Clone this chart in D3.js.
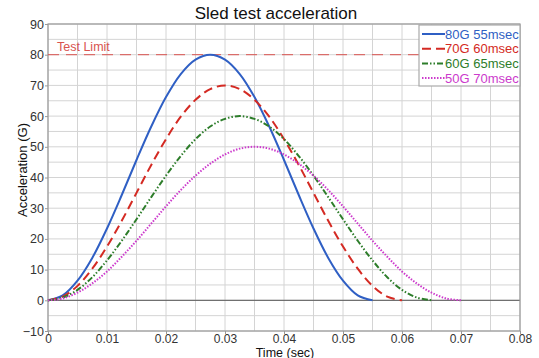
<!DOCTYPE html>
<meta charset="utf-8">
<script src="https://d3js.org/d3.v7.min.js"></script>
<style>
  body { margin: 0; background: #fff; }
  text { font-family: "Liberation Sans", Arial, sans-serif; }
</style>
<body>
<div id="chart"></div>
<script>
// time samples (sec), shared by all series
var times = [0, 0.0025, 0.005, 0.0075, 0.01, 0.0125, 0.015, 0.0175, 0.02, 0.0225,
  0.025, 0.0275, 0.03, 0.0325, 0.035, 0.0375, 0.04, 0.0425, 0.045, 0.0475,
  0.05, 0.0525, 0.055, 0.0575, 0.06, 0.0625, 0.065, 0.0675, 0.07];

var g80 = [0, 1.6, 6.4, 13.8, 23.4, 34.3, 45.7, 56.6, 66.2, 73.7, 78.4, 80,
  78.4, 73.7, 66.2, 56.6, 45.7, 34.3, 23.4, 13.8, 6.4, 1.6, 0];
var g70 = [0, 1.2, 4.7, 10.3, 17.5, 25.9, 35, 44.1, 52.5, 59.8, 65.3, 68.8, 70,
  68.8, 65.3, 59.8, 52.5, 44.1, 35, 25.9, 17.5, 10.3, 4.7, 1.2, 0];
var g60 = [0, 0.9, 3.4, 7.5, 13, 19.4, 26.4, 33.6, 40.6, 47, 52.5, 56.6, 59.1, 60,
  59.1, 56.6, 52.5, 47, 40.6, 33.6, 26.4, 19.4, 13, 7.5, 3.4, 0.9, 0];
var g50 = [0, 0.6, 2.5, 5.5, 9.4, 14.2, 19.4, 25, 30.6, 35.9, 40.6, 44.5, 47.5, 49.4, 50,
  49.4, 47.5, 44.5, 40.6, 35.9, 30.6, 25, 19.4, 14.2, 9.4, 5.5, 2.5, 0.6, 0];

var seriesNames = ["80G 55msec", "70G 60msec", "60G 65msec", "50G 70msec"];
var testLimit = 80;
var xTicks = [0, 0.01, 0.02, 0.03, 0.04, 0.05, 0.06, 0.07, 0.08];
var yTicks = [-10, 0, 10, 20, 30, 40, 50, 60, 70, 80, 90];

var styles = [
  {color: "#2f5fc4", dash: null, w: 2},
  {color: "#d42a23", dash: "9,5", w: 2},
  {color: "#2d7d2a", dash: "6,2,1.5,2,1.5,2", w: 2},
  {color: "#cc3acc", dash: "1.5,1.5", w: 2}
];
var data = [g80, g70, g60, g50];

var W = 539, H = 358;
var margin = {top: 24, right: 19, bottom: 27, left: 48};
var width = W - margin.left - margin.right,
    height = H - margin.top - margin.bottom;

var svg = d3.select("#chart").append("svg")
    .attr("width", W).attr("height", H);
var g = svg.append("g")
    .attr("transform", "translate(" + margin.left + "," + margin.top + ")");

var x = d3.scaleLinear().domain([0, 0.08]).range([0, width]);
var y = d3.scaleLinear().domain([-10, 90]).range([height, 0]);

// grid every 0.005 / 5
var xGrid = d3.range(0, 17).map(function(i) { return i * 0.005; });
var yGrid = d3.range(0, 21).map(function(i) { return -10 + i * 5; });

g.selectAll(".gx").data(xGrid).enter().append("line")
    .attr("x1", function(d) { return x(d); }).attr("x2", function(d) { return x(d); })
    .attr("y1", 0).attr("y2", height)
    .attr("stroke", "#d4d4d4").attr("stroke-width", 1);
g.selectAll(".gy").data(yGrid).enter().append("line")
    .attr("x1", 0).attr("x2", width)
    .attr("y1", function(d) { return y(d); }).attr("y2", function(d) { return y(d); })
    .attr("stroke", "#d4d4d4").attr("stroke-width", 1);

// zero line
g.append("line")
    .attr("x1", 0).attr("x2", width)
    .attr("y1", y(0)).attr("y2", y(0))
    .attr("stroke", "#555").attr("stroke-width", 1);

// axes
var xAxis = g.append("g")
    .attr("transform", "translate(0," + height + ")")
    .call(d3.axisBottom(x).tickValues(xTicks).tickSize(3).tickPadding(0)
      .tickFormat(function(d) { return d === 0 ? "0" : d3.format(".2f")(d); }));
var yAxis = g.append("g")
    .call(d3.axisLeft(y).tickValues(yTicks).tickSize(3).tickPadding(1));
[xAxis, yAxis].forEach(function(a) {
  a.select(".domain").remove();
  a.selectAll("line").attr("stroke", "#999");
  a.selectAll("text").attr("font-size", 12.5).attr("fill", "#333")
    .style("font-family", "'Liberation Sans', Arial, sans-serif");
});
xAxis.selectAll("text").attr("font-size", 12);

// frame
g.append("rect")
    .attr("x", 0).attr("y", 0).attr("width", width).attr("height", height)
    .attr("fill", "none").attr("stroke", "#999").attr("stroke-width", 1.2);

// test limit
g.append("line")
    .attr("x1", 0).attr("x2", width)
    .attr("y1", y(testLimit)).attr("y2", y(testLimit))
    .attr("stroke", "#d9534f").attr("stroke-width", 1)
    .attr("stroke-dasharray", "11,7");
g.append("text")
    .attr("x", 9).attr("y", y(testLimit) - 4)
    .attr("font-size", 12.5).attr("fill", "#d9534f")
    .text("Test Limit");

// curves
var line = d3.line()
    .x(function(d, i) { return x(times[i]); })
    .y(function(d) { return y(d); })
    .curve(d3.curveCatmullRom);

data.forEach(function(s, i) {
  g.append("path")
      .datum(s)
      .attr("d", line)
      .attr("fill", "none")
      .attr("stroke", styles[i].color)
      .attr("stroke-width", styles[i].w)
      .attr("stroke-dasharray", styles[i].dash);
});

// legend
var lg = svg.append("g").attr("transform", "translate(419,25)");
lg.append("rect")
    .attr("width", 101).attr("height", 61)
    .attr("fill", "#fff").attr("stroke", "#aaa").attr("stroke-width", 1.2);
seriesNames.forEach(function(n, i) {
  var yy = 9 + i * 14.7;
  lg.append("line")
      .attr("x1", 3).attr("x2", 26).attr("y1", yy).attr("y2", yy)
      .attr("stroke", styles[i].color).attr("stroke-width", 2)
      .attr("stroke-dasharray", styles[i].dash);
  lg.append("text")
      .attr("x", 26).attr("y", yy + 4.5)
      .attr("font-size", 13).attr("fill", styles[i].color)
      .text(n);
});

// title and axis labels
svg.append("text")
    .attr("x", 276).attr("y", 19)
    .attr("text-anchor", "middle").attr("font-size", 17).attr("fill", "#111")
    .text("Sled test acceleration");
svg.append("text")
    .attr("x", 285).attr("y", 356.5)
    .attr("text-anchor", "middle").attr("font-size", 12.5).attr("fill", "#111")
    .text("Time (sec)");
svg.append("text")
    .attr("transform", "translate(27,170) rotate(-90)")
    .attr("text-anchor", "middle").attr("font-size", 13).attr("fill", "#111")
    .text("Acceleration (G)");
</script>
</body>
